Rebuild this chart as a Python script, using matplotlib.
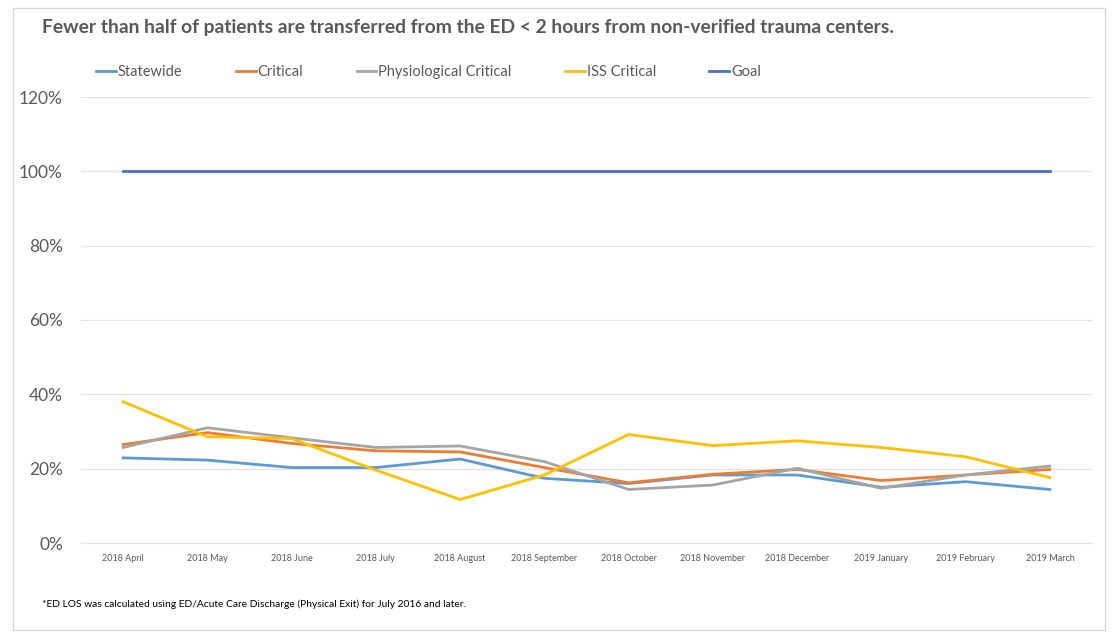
import matplotlib
matplotlib.use("Agg")
import matplotlib.pyplot as plt
from matplotlib.patches import Rectangle
from matplotlib.ticker import PercentFormatter

plt.rcParams['font.family'] = ['Lato', 'DejaVu Sans']

months = ["2018 April", "2018 May", "2018 June", "2018 July", "2018 August",
          "2018 September", "2018 October", "2018 November", "2018 December",
          "2019 January", "2019 February", "2019 March"]
statewide = [22.9, 22.3, 20.3, 20.3, 22.6, 17.4, 16.0, 18.3, 18.3, 15.0, 16.5, 14.4]
critical = [26.5, 29.7, 26.8, 24.8, 24.5, 20.3, 16.2, 18.5, 19.8, 16.8, 18.3, 19.8]
physio = [25.7, 31.0, 28.3, 25.7, 26.1, 21.9, 14.4, 15.6, 20.1, 14.7, 18.3, 20.7]
iss = [38.0, 28.6, 28.1, 19.6, 11.7, 18.3, 29.2, 26.2, 27.5, 25.7, 23.2, 17.6]
goal = [100] * 12

series = [("Statewide", statewide, "#5B9BD5"),
          ("Critical", critical, "#ED7D31"),
          ("Physiological Critical", physio, "#A5A5A5"),
          ("ISS Critical", iss, "#FFC000"),
          ("Goal", goal, "#4472C4")]

fig = plt.figure(figsize=(11.12, 6.34), dpi=100)
fig.patches.append(Rectangle((13/1112, 1 - 630/634), (1105-13)/1112, (630-8)/634,
                             transform=fig.transFigure, fill=False,
                             edgecolor="#D9D9D9", linewidth=1))
ax = fig.add_axes([81/1112, 1 - 543/634, (1092-81)/1112, (543-97)/634])

x = list(range(len(months)))
for name, vals, col in series:
    ax.plot(x, vals, color=col, linewidth=2, label=name)

ax.set_xlim(-0.5, len(months) - 0.5)
ax.set_ylim(0, 120)
ax.set_yticks(range(0, 121, 20))
ax.yaxis.set_major_formatter(PercentFormatter(decimals=0))
ax.set_xticks(x)
ax.set_xticklabels(months, fontsize=6.5, color="#595959")
ax.tick_params(axis="y", labelsize=12.5, colors="#595959", length=0, pad=13)
ax.tick_params(axis="x", length=0, pad=8)
ax.grid(axis="y", color="#E3E3E3", linewidth=0.9)
ax.set_axisbelow(True)
for s in ["top", "right", "left"]:
    ax.spines[s].set_visible(False)
ax.spines["bottom"].set_color("#E3E3E3")

fig.text(42/1112, 1 - 27/634, "Fewer than half of patients are transferred from the ED < 2 hours from non-verified trauma centers.",
         fontsize=13.9, fontweight="bold", color="#595959", va="center", ha="left")

ax.legend(loc="center left", bbox_to_anchor=(83/1112, 1 - 72/634),
          bbox_transform=fig.transFigure, ncol=5, frameon=False,
          fontsize=10.5, handlelength=1.35, handletextpad=0.15, columnspacing=3.65,
          labelcolor="#595959")

fig.text(42/1112, 1 - 604/634, "*ED LOS was calculated using ED/Acute Care Discharge (Physical Exit) for July 2016 and later.",
         fontsize=7.4, color="#000000", va="center", ha="left")

fig.savefig("out.png", dpi=100)
